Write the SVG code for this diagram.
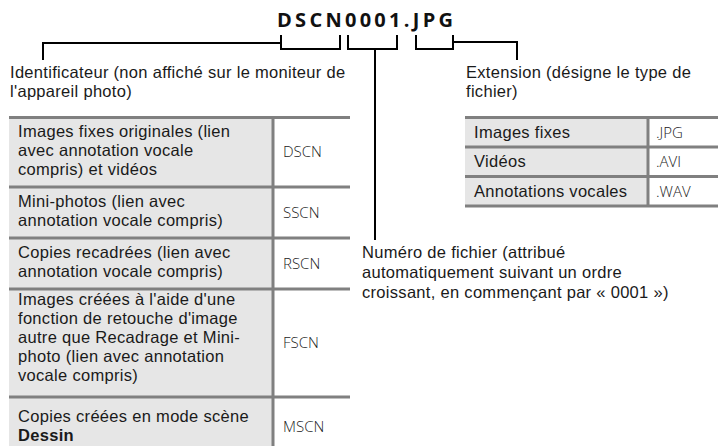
<svg xmlns="http://www.w3.org/2000/svg" width="720" height="446" viewBox="0 0 720 446">
<style>
.t{font-family:"Liberation Sans",Arial,sans-serif;font-size:16.5px;letter-spacing:0.3px;fill:#1a1a1a}
.c{font-family:"Open Sans","Noto Sans","Liberation Sans",sans-serif;font-size:15px;font-weight:300;fill:#222}
.title{font-family:"Open Sans","Liberation Sans",sans-serif;font-size:20px;font-weight:700;fill:#111}
.cell{fill:#e6e6e6}
.bd{stroke:#808080;stroke-width:3;fill:none}
.ln{stroke:#000;stroke-width:2;fill:none}
</style>
<rect width="720" height="446" fill="#fff"/>
<g id="title"><text class="title" x="277" y="27" textLength="176" lengthAdjust="spacing">DSCN0001.JPG</text></g>
<g id="connectors">
<path class="ln" d="M43,60 V43 H281"/>
<path class="ln" d="M281,35 V49 H340 V35"/>
<path class="ln" d="M348,35 V49 H397 V35"/>
<path class="ln" d="M375,49 V240"/>
<path class="ln" d="M416,35 V49 H453 V35"/>
<path class="ln" d="M453,42 H517 V60"/>
</g>
<g id="label-identifier">
<text class="t" x="10" y="78">Identificateur (non affiché sur le moniteur de<tspan x="10" dy="19">l'appareil photo)</tspan></text>
</g>
<g id="label-extension">
<text class="t" x="466" y="78">Extension (désigne le type de<tspan x="466" dy="19">fichier)</tspan></text>
</g>
<g id="label-number">
<text class="t" x="362" y="258">Numéro de fichier (attribué<tspan x="362" dy="20">automatiquement suivant un ordre</tspan><tspan x="362" dy="20">croissant, en commençant par « 0001 »)</tspan></text>
</g>
<g id="table-identifier">
<rect class="cell" x="9" y="117" width="264" height="332"/>
<path class="bd" d="M273,117 V449"/>
<path class="bd" d="M9,117.5 H350 M9,187 H350 M9,238 H350 M9,289 H350 M9,397 H350"/>
<g id="row-dscn">
<text class="t" x="18" y="137">Images fixes originales (lien<tspan x="18" dy="19">avec annotation vocale</tspan><tspan x="18" dy="19">compris) et vidéos</tspan></text>
<text class="c" x="283" y="157">DSCN</text>
</g>
<g id="row-sscn">
<text class="t" x="18" y="207">Mini-photos (lien avec<tspan x="18" dy="19">annotation vocale compris)</tspan></text>
<text class="c" x="283" y="218">SSCN</text>
</g>
<g id="row-rscn">
<text class="t" x="18" y="258">Copies recadrées (lien avec<tspan x="18" dy="19">annotation vocale compris)</tspan></text>
<text class="c" x="283" y="269">RSCN</text>
</g>
<g id="row-fscn">
<text class="t" x="18" y="305">Images créées à l'aide d'une<tspan x="18" dy="19">fonction de retouche d'image</tspan><tspan x="18" dy="19">autre que Recadrage et Mini-</tspan><tspan x="18" dy="19">photo (lien avec annotation</tspan><tspan x="18" dy="19">vocale compris)</tspan></text>
<text class="c" x="283" y="348">FSCN</text>
</g>
<g id="row-mscn">
<text class="t" x="18" y="422">Copies créées en mode scène<tspan x="18" dy="19" font-weight="700">Dessin</tspan></text>
<text class="c" x="283" y="432">MSCN</text>
</g>
</g>
<g id="table-extension">
<rect class="cell" x="465" y="117" width="183" height="89"/>
<path class="bd" d="M648,117 V206"/>
<path class="bd" d="M465,117.5 H718 M465,147 H718 M465,176.5 H718 M465,206 H718"/>
<text class="t" x="474" y="138">Images fixes</text>
<text class="t" x="474" y="167">Vidéos</text>
<text class="t" x="474" y="197">Annotations vocales</text>
<text class="c" x="656" y="138">.JPG</text>
<text class="c" x="656" y="167">.AVI</text>
<text class="c" x="656" y="197">.WAV</text>
</g>
</svg>
